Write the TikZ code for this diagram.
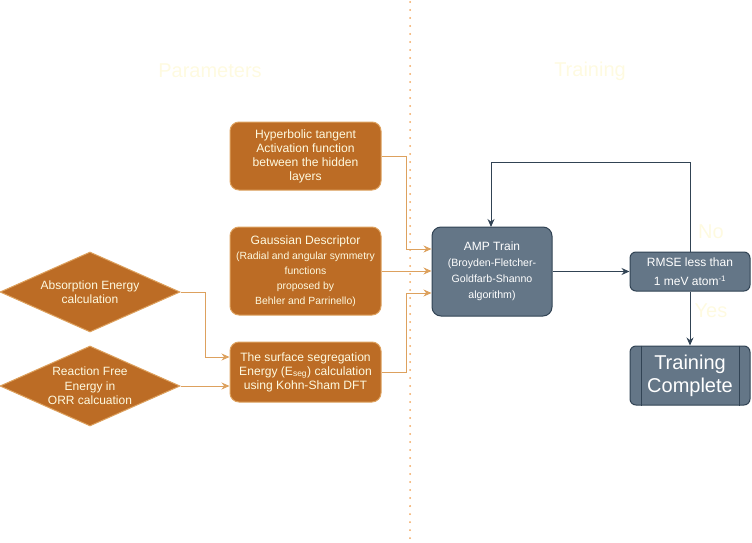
\documentclass[tikz,border=0pt]{standalone}
\usepackage{fontspec}
\setmainfont{Liberation Sans}
\usetikzlibrary{arrows.meta,shapes.geometric,calc}
\definecolor{orfill}{HTML}{BC6C25}
\definecolor{orline}{HTML}{DDA15E}
\definecolor{ortext}{HTML}{FEFAE0}
\definecolor{slfill}{HTML}{647687}
\definecolor{slline}{HTML}{314354}
\definecolor{dotcol}{HTML}{F2A55C}
\tikzset{
  obox/.style={draw=orline, fill=orfill, rounded corners=9pt, line width=1pt, text=ortext, align=center, inner sep=2pt, font=\fontsize{12.1}{14}\selectfont},
  sbox/.style={draw=slline, fill=slfill, rounded corners=9pt, line width=1pt, text=white, align=center, inner sep=2pt, font=\fontsize{12}{14}\selectfont},
  odia/.style={draw=orline, fill=orfill, shape=diamond, aspect=2.25, inner sep=0pt, minimum width=180pt, minimum height=80pt, line width=1pt},
  dtext/.style={text=ortext, align=center, font=\fontsize{12}{14.5}\selectfont},
  oarr/.style={draw=orline, line width=1pt, -{Stealth[length=8pt,width=7pt]}},
  sarr/.style={draw=slline, line width=1pt, -{Stealth[length=8pt,width=7pt]}},
  title/.style={text=ortext, font=\fontsize{20}{23}\selectfont},
  small/.style={font=\fontsize{10.4}{15}\selectfont}
}
\begin{document}
\begin{tikzpicture}[x=1pt,y=-1pt]
\useasboundingbox (0,0) rectangle (752,543);
% dotted divider
\coordinate (dtop) at (410,2);
\coordinate (dbot) at (410,543);
\draw[dotcol, line width=2pt, line cap=round, dash pattern=on 0pt off 8pt] (dtop) -- (dbot);
% titles
\node[title] (tpar) at (210,71) {Parameters};
\node[title] (ttra) at (590,71) {Training};
% orange boxes
\node[obox, minimum width=151pt, minimum height=68pt] (hyp) at (305.5,156) {Hyperbolic tangent\\Activation function\\between the hidden\\layers};
\node[obox, minimum width=151pt, minimum height=88pt, font=\fontsize{12.1}{15}\selectfont] (gau) at (305.5,271) {Gaussian Descriptor\\{\fontsize{10.4}{15}\selectfont (Radial and angular symmetry}\\{\fontsize{10.4}{15}\selectfont functions}\\{\fontsize{10.4}{15}\selectfont proposed by}\\{\fontsize{10.4}{15}\selectfont Behler and Parrinello)}};
\node[obox, minimum width=151pt, minimum height=60pt] (sur) at (305.5,372) {The surface segregation\\Energy (E\textsubscript{seg}) calculation\\using Kohn-Sham DFT};
% diamonds
\node[odia] (abs) at (90,292) {};
\node[dtext] (abst) at (abs.center) {Absorption Energy\\calculation};
\node[odia] (rea) at (90,386) {};
\node[dtext] (reat) at (rea.center) {Reaction Free\\Energy in\\ORR calcuation};
% slate boxes
\node[sbox, minimum width=120pt, minimum height=89pt, font=\fontsize{12}{16}\selectfont] (amp) at (492,271.5) {AMP Train\\{\fontsize{10.6}{16}\selectfont (Broyden-Fletcher-}\\{\fontsize{10.6}{16}\selectfont Goldfarb-Shanno}\\{\fontsize{10.6}{16}\selectfont algorithm)}};
\node[sbox, rounded corners=6pt, minimum width=120pt, minimum height=39pt, font=\fontsize{12}{19.5}\selectfont, inner sep=0pt] (rmse) at (690,271.5) {RMSE less than\\1 meV atom\textsuperscript{-1}};
\node[sbox, rounded corners=6pt, minimum width=120pt, minimum height=59pt, font=\fontsize{20}{23}\selectfont] (done) at (690,375.5) {Training\\Complete};
\draw[slline, line width=1pt] ($(done.north west)+(12,0)$) -- ($(done.south west)+(12,0)$);
\draw[slline, line width=1pt] ($(done.north east)+(-11,0)$) -- ($(done.south east)+(-11,0)$);
% orange connectors
\draw[oarr] (abs.east) -- (205,292) |- ($(sur.west)+(0,-15)$);
\draw[oarr] (rea.east) -- (rea.east -| sur.west);
\draw[oarr] (hyp.east) -- (406,156) |- ($(amp.west)+(0,-22.5)$);
\draw[oarr] (gau.east) -- (gau.east -| amp.west);
\draw[oarr] (sur.east) -- (406,372) |- ($(amp.west)+(0,21.5)$);
% slate connectors
\draw[sarr] (amp.east) -- (rmse.west);
\draw[sarr] (rmse.north) -- (690,162) -| (491,227);
\draw[sarr] (rmse.south) -- (done.north);
% labels
\node[title] (lno) at (711,232) {No};
\node[title] (lyes) at (711,311) {Yes};
\end{tikzpicture}
\end{document}
